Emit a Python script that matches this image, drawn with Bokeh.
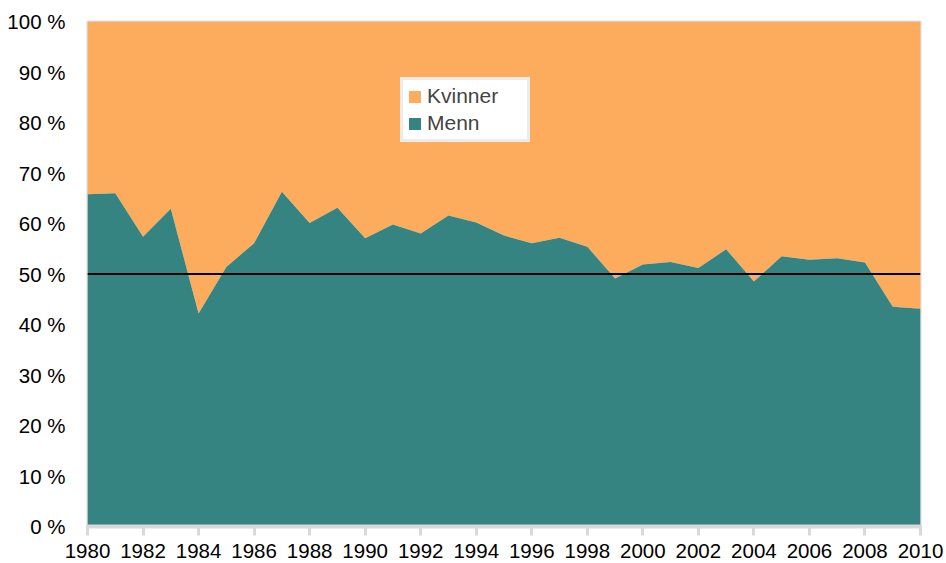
from bokeh.plotting import figure
from bokeh.models import Legend, LegendItem, Span, PrintfTickFormatter, FixedTicker, Range1d
from bokeh.embed import file_html
from bokeh.resources import INLINE

years = list(range(1980, 2011))
menn = [65.8, 66.0, 57.4, 62.9, 42.2, 51.4, 56.1, 66.3, 60.1, 63.1,
        57.1, 59.8, 58.0, 61.6, 60.2, 57.6, 56.1, 57.2, 55.4, 49.1,
        51.9, 52.4, 51.2, 54.9, 48.5, 53.5, 52.8, 53.1, 52.3, 43.5, 43.1]
kvinner_top = [100] * len(years)
x_ticks = list(range(1980, 2011, 2))
y_ticks = list(range(0, 101, 10))
ref_level = 50

TEAL = "#358481"
ORANGE = "#fdab5c"
FONT = "Liberation Sans"

p = figure(width=946, height=563, output_backend="svg", toolbar_location=None,
           x_range=Range1d(1980, 2010), y_range=Range1d(0, 100),
           min_border_left=87, min_border_right=26, min_border_top=21, min_border_bottom=37)

r_k = p.varea(x=years, y1=menn, y2=kvinner_top, fill_color=ORANGE)
r_m = p.varea(x=years, y1=[0] * len(years), y2=menn, fill_color=TEAL)

p.add_layout(Span(location=ref_level, dimension="width", line_color="black", line_width=2))

p.grid.visible = False
p.outline_line_color = "#d9d9d9"
p.outline_line_width = 2
p.background_fill_color = "white"

p.xaxis.ticker = FixedTicker(ticks=x_ticks)
p.yaxis.ticker = FixedTicker(ticks=y_ticks)
p.yaxis.formatter = PrintfTickFormatter(format="%d %%")
p.yaxis.axis_line_color = None
p.yaxis.major_tick_line_color = None
p.yaxis.minor_tick_line_color = None
p.yaxis.major_label_standoff = 16
p.yaxis.major_label_text_font_size = "20.5px"
p.yaxis.major_label_text_font = FONT
p.yaxis.major_label_text_color = "black"

p.xaxis.axis_line_color = "#d9d9d9"
p.xaxis.axis_line_width = 4
p.xaxis.major_tick_line_color = "#d9d9d9"
p.xaxis.major_tick_line_width = 3
p.xaxis.major_tick_out = 9
p.xaxis.major_tick_in = 0
p.xaxis.minor_tick_line_color = None
p.xaxis.major_label_standoff = 8
p.xaxis.major_label_text_font_size = "20.5px"
p.xaxis.major_label_text_font = FONT
p.xaxis.major_label_text_color = "black"

legend = Legend(items=[LegendItem(label="Kvinner", renderers=[r_k]),
                       LegendItem(label="Menn", renderers=[r_m])],
                location=(313, 384), orientation="vertical",
                glyph_width=15, glyph_height=15, label_standoff=5,
                label_text_font=FONT, label_text_font_size="21px",
                label_height=20, label_width=96, spacing=3, padding=4, margin=0,
                border_line_color="#d9d9d9", border_line_width=3,
                background_fill_color="white", background_fill_alpha=1)
p.add_layout(legend, "center")

open("out.html", "w").write(file_html(p, INLINE))
